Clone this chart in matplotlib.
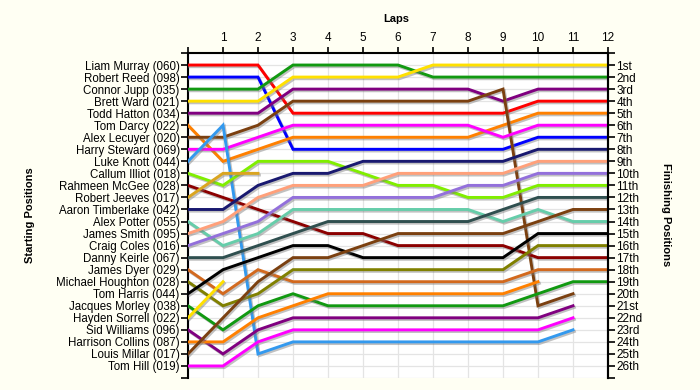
import matplotlib
matplotlib.use("Agg")
import matplotlib.pyplot as plt
import matplotlib.patheffects as pe

plt.rcParams['font.family'] = ['Liberation Sans', 'DejaVu Sans']

drivers = ["Liam Murray (060)", "Robert Reed (098)", "Connor Jupp (035)", "Brett Ward (021)",
           "Todd Hatton (034)", "Tom Darcy (022)", "Alex Lecuyer (020)", "Harry Steward (069)",
           "Luke Knott (044)", "Callum Illiot (018)", "Rahmeen McGee (028)", "Robert Jeeves (017)",
           "Aaron Timberlake (042)", "Alex Potter (055)", "James Smith (095)", "Craig Coles (016)",
           "Danny Keirle (067)", "James Dyer (029)", "Michael Houghton (028)", "Tom Harris (044)",
           "Jacques Morley (038)", "Hayden Sorrell (022)", "Sid Williams (096)",
           "Harrison Collins (087)", "Louis Millar (017)", "Tom Hill (019)"]

colors = ["#FF0000", "#0000FF", "#119911", "#FFE000", "#800080", "#FF8000", "#7B4010", "#FF00FF",
          "#3399EE", "#80EE00", "#8B0000", "#DAA520", "#191970", "#66CDAA", "#FFA07A", "#9370DB",
          "#2F4F4F", "#D2691E", "#808000", "#000000", "#119911", "#FFE000", "#800080",
          "#FF8000", "#7B4010", "#FF00FF"]

positions = [
    [1, 1, 1, 5, 5, 5, 5, 5, 5, 5, 4, 4, 4],
    [2, 2, 2, 8, 8, 8, 8, 8, 8, 8, 7, 7, 7],
    [3, 3, 3, 1, 1, 1, 1, 2, 2, 2, 2, 2, 2],
    [4, 4, 4, 2, 2, 2, 2, 1, 1, 1, 1, 1, 1],
    [5, 5, 5, 3, 3, 3, 3, 3, 3, 4, 3, 3, 3],
    [6, 9, 8, 7, 7, 7, 7, 7, 7, 6, 5, 5, 5],
    [7, 7, 6, 4, 4, 4, 4, 4, 4, 3, 21, 20],
    [8, 8, 7, 6, 6, 6, 6, 6, 6, 7, 6, 6, 6],
    [9, 6, 25, 24, 24, 24, 24, 24, 24, 24, 24, 23],
    [10, 11, 9, 9, 9, 10, 11, 11, 12, 12, 11, 11, 11],
    [11, 12, 13, 14, 15, 15, 16, 16, 16, 16, 17, 17, 17],
    [12, 10, 10],
    [13, 13, 11, 10, 10, 9, 9, 9, 9, 9, 8, 8, 8],
    [14, 16, 15, 13, 13, 13, 13, 13, 13, 14, 13, 14, 14],
    [15, 14, 12, 11, 11, 11, 10, 10, 10, 10, 9, 9, 9],
    [16, 15, 14, 12, 12, 12, 12, 12, 11, 11, 10, 10, 10],
    [17, 17, 16, 15, 14, 14, 14, 14, 14, 13, 12, 12, 12],
    [18, 20, 18, 19, 19, 19, 19, 19, 19, 19, 18, 18, 18],
    [19, 21, 20, 18, 18, 18, 18, 18, 18, 18, 16, 16, 16],
    [20, 18, 17, 16, 16, 17, 17, 17, 17, 17, 15, 15, 15],
    [21, 23, 21, 20, 21, 21, 21, 21, 21, 21, 20, 19, 19],
    [22, 19],
    [23, 25, 23, 22, 22, 22, 22, 22, 22, 22, 22, 21],
    [24, 24, 22, 21, 20, 20, 20, 20, 20, 20, 19],
    [25, 22, 19, 17, 17, 16, 15, 15, 15, 15, 14, 13, 13],
    [26, 26, 24, 23, 23, 23, 23, 23, 23, 23, 23, 22],
]

finish_labels = ["1st", "2nd", "3rd", "4th", "5th", "6th", "7th", "8th", "9th", "10th",
                 "11th", "12th", "13th", "14th", "15th", "16th", "17th", "18th", "19th", "20th",
                 "21st", "22nd", "23rd", "24th", "25th", "26th"]

n_laps = 12

fig = plt.figure(figsize=(7.0, 3.9), dpi=100, facecolor="#FFFFF3")
ax = fig.add_axes([188/700, 1-378/390, 420/700, 325/390])
ax.set_facecolor("white")

for pos, col in zip(positions, colors):
    laps = list(range(len(pos)))
    ax.plot(laps, pos, color=col, lw=2.1, solid_joinstyle='miter', zorder=3,
            path_effects=[pe.SimpleLineShadow(offset=(1, -1.2), shadow_color='#777777', alpha=0.45),
                          pe.Normal()])

n = len(drivers)
ax.set_xlim(0, n_laps)
ax.set_ylim(n + 1, 0)

ax.set_xticks(range(0, n_laps + 1))
ax.set_xticklabels([""] + [str(i) for i in range(1, n_laps + 1)])
ax.xaxis.tick_top()
ax.set_yticks(range(0, n + 2))
ax.set_yticklabels([""] + drivers + [""])

ax.tick_params(axis='x', top=True, bottom=False, direction='out', length=4, width=1.2,
               labelsize=8.5, pad=2.5)
ax.tick_params(axis='y', left=True, right=True, labelleft=True, labelright=False,
               direction='out', length=5, width=1.2, labelsize=8.3, pad=1)

ax.grid(True, color="#E4E4E4", lw=0.9, zorder=0)
ax.set_axisbelow(True)

for s in ['left', 'right', 'top']:
    ax.spines[s].set_linewidth(1.5)
    ax.spines[s].set_color('black')
ax.spines['bottom'].set_visible(False)

ax2 = ax.twinx()
ax2.set_ylim(n + 1, 0)
ax2.set_yticks(range(0, n + 2))
ax2.set_yticklabels([""] + finish_labels + [""])
ax2.tick_params(axis='y', right=True, direction='out', length=5, width=1.2, labelsize=8.5, pad=1)
for s in ['left', 'top', 'bottom']:
    ax2.spines[s].set_visible(False)
ax2.spines['right'].set_linewidth(1.5)

fig.text(396/700, 1-19/390, "Laps", ha='center', va='center', fontsize=8, fontweight='bold')
fig.text(30/700, 1-215/390, "Starting Positions", ha='center', va='center', rotation=90,
         fontsize=8, fontweight='bold')
fig.text(666/700, 1-215/390, "Finishing Positions", ha='center', va='center', rotation=-90,
         fontsize=8, fontweight='bold')

fig.savefig("out.png", dpi=100, facecolor=fig.get_facecolor())
